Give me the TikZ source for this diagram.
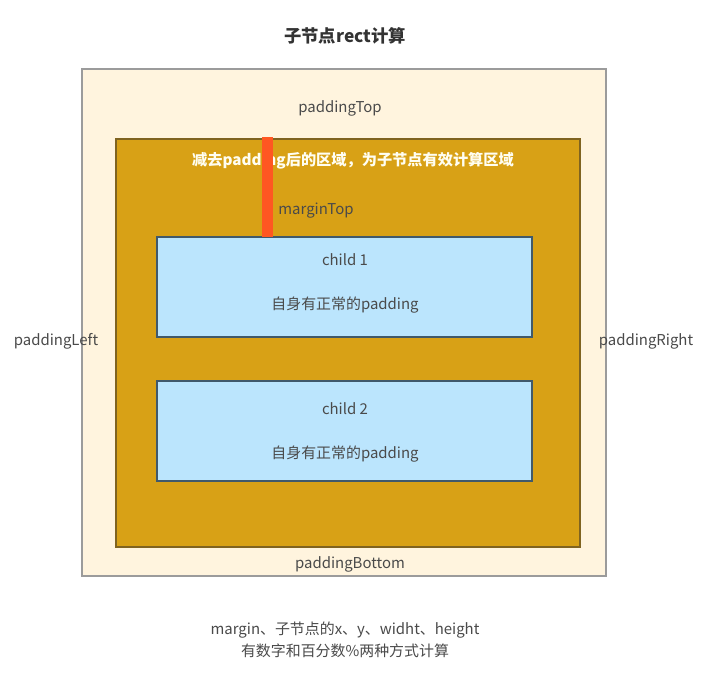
\documentclass[tikz,border=0pt]{standalone}
\usepackage{fontspec}
\setmainfont{Noto Sans CJK SC}
\usetikzlibrary{positioning}
\definecolor{paperCream}{HTML}{FFF4DE}
\definecolor{paperEdge}{HTML}{9B9B9B}
\definecolor{areaGold}{HTML}{D8A116}
\definecolor{areaEdge}{HTML}{7F6320}
\definecolor{childBlue}{HTML}{BBE5FD}
\definecolor{childEdge}{HTML}{40596B}
\definecolor{marginRed}{HTML}{FF5722}
\definecolor{labelGray}{HTML}{4A4A4A}
\tikzset{
  lbl/.style={font=\fontsize{11.2}{13}\selectfont,text=labelGray,inner sep=1pt},
  childbox/.style={fill=childBlue,draw=childEdge,line width=0.8pt}
}

\begin{document}
\begin{tikzpicture}[x=0.75pt,y=-0.75pt]
\useasboundingbox[fill=white] (0,0) rectangle (725,694);
% outer rect and the area left after padding
\draw[fill=paperCream,draw=paperEdge,line width=1.2pt] (82,69) rectangle (606,576);
\draw[fill=areaGold,draw=areaEdge,line width=1pt] (116,139) rectangle (580,547);
\foreach \y/\t/\s/\n in {237/260/305/1,381/409/454/2}{
  \draw[childbox] (157,\y) rectangle (532,\y+100);
  \node[lbl] (child\n) at (345,\t) {child \n};
  \node[lbl] (self\n) at (345,\s) {自身有正常的padding};
}
\node[lbl,font=\fontsize{11.4}{13}\selectfont\bfseries,text=white!95!yellow] (area) at (353,161) {减去padding后的区域，为子节点有效计算区域};
\fill[marginRed] (262,137) rectangle (273,237);
\node[lbl] (mtop) at (316,211) {marginTop};
\node[lbl] (ptop) at (340,108) {paddingTop};
\node[lbl] (pleft) at (56,341) {paddingLeft};
\node[lbl] (pright) at (646,341) {paddingRight};
\node[lbl] (pbottom) at (350,564) {paddingBottom};
\node[lbl,font=\fontsize{13}{15}\selectfont\bfseries,text=black!80] (title) at (345,36) {子节点rect计算};
\node[lbl,align=center,font=\fontsize{11.2}{16.5}\selectfont] (note) at (345,640) {margin、子节点的x、y、widht、height\\有数字和百分数\%两种方式计算};
\end{tikzpicture}
\end{document}
